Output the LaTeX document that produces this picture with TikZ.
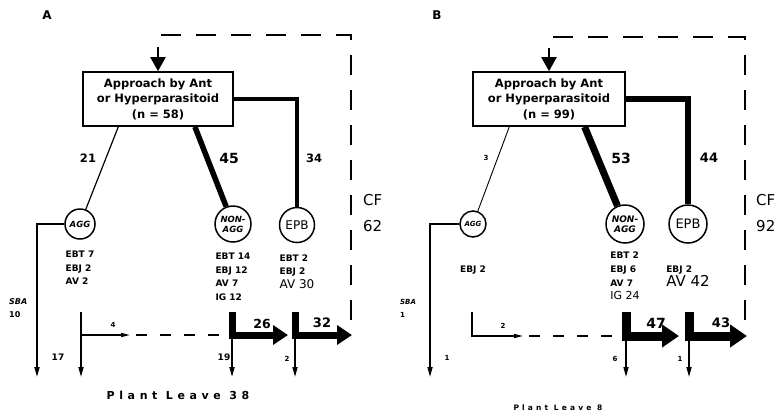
\documentclass[tikz,border=0pt]{standalone}
\usepackage{fontspec}
\setmainfont{DejaVu Sans}
\newfontfamily\leavefont[LetterSpace=42]{DejaVu Sans}
\usetikzlibrary{arrows.meta,positioning}
\tikzset{
  panel label/.style={font=\bfseries\fontsize{12}{12}\selectfont},
  event box/.style={draw,line width=1.6pt,minimum width=150pt,minimum height=54pt,inner sep=1pt,align=center,font=\bfseries\fontsize{11.5}{15.5}\selectfont},
  state node/.style={circle,draw,line width=1.5pt,inner sep=0pt},
  agg node/.style={state node,minimum size=30pt,font=\bfseries\itshape\fontsize{8.5}{9}\selectfont},
  nonagg node/.style={state node,minimum size=36pt,align=center,font=\bfseries\itshape\fontsize{8.5}{10}\selectfont},
  epb node/.style={state node,minimum size=35pt,font=\fontsize{12}{12}\selectfont},
  tally/.style={align=left,inner sep=0pt,font=\bfseries\fontsize{9}{13.7}\selectfont},
  big num/.style={font=\bfseries\fontsize{14}{14}\selectfont},
  mid num/.style={font=\bfseries\fontsize{11.5}{11.5}\selectfont},
  low num/.style={font=\bfseries\fontsize{9}{9}\selectfont},
  small num/.style={font=\bfseries\fontsize{7}{7}\selectfont},
  sba label/.style={align=left,inner sep=0pt,font=\bfseries\fontsize{8}{13}\selectfont},
  cf label/.style={align=left,inner sep=0pt,font=\fontsize{15}{26}\selectfont},
  leave label/.style={font=\leavefont\bfseries\fontsize{11}{11}\selectfont},
  down arrow/.style={line width=1.6pt,-{Triangle[length=10pt,width=5pt]}},
  side arrow/.style={line width=1.4pt,-{Triangle[length=9pt,width=4pt]}},
  return link/.style={line width=1.4pt,dash pattern=on 11pt off 13pt,shorten <=6pt},
  block arrow/.style={line width=7pt,line join=miter,-{Triangle[length=15pt,width=19pt]}},
  heavy block arrow/.style={line width=9pt,line join=miter,-{Triangle[length=17pt,width=22pt]}},
  loop line/.style={line width=2.4pt,dash pattern=on 20pt off 15pt},
  loop tip/.style={line width=2pt,-{Triangle[length=14pt,width=15pt]}},
}

\begin{document}
\begin{tikzpicture}[x=1pt,y=-1pt]
  \useasboundingbox (0,0) rectangle (781,416);

  % ---------- panel A ----------
  \node[panel label] (labelA) at (47,15) {A};
  \node[event box] (boxA) at (158,99) {Approach by Ant\\or Hyperparasitoid\\(n = 58)};
  \node[agg node] (aggA) at (80,224) {AGG};
  \node[nonagg node] (nonA) at (233,224) {NON-\\AGG};
  \node[epb node] (epbA) at (297,225) {EPB};
  \draw[line width=1.2pt] (boxA.215) -- (aggA);
  \draw[line width=5.5pt] (boxA.323) -- (nonA);
  \draw[line width=4pt] (boxA.east) -| (epbA);
  \node[mid num] (n21A) at (88,158) {21};
  \node[big num] (n45A) at (229,158) {45};
  \node[mid num] (n34A) at (314,158) {34};

  \node[tally,below=11pt of aggA] (listAggA) {EBT 7\\EBJ 2\\AV 2};
  \node[tally,below=10pt of nonA] (listNonA) {EBT 14\\EBJ 12\\AV 7\\IG 12};
  \node[tally,below=11pt of epbA] (listEpbA) {EBT 2\\EBJ 2\\{\mdseries\fontsize{12}{12}\selectfont AV 30}};

  % loop back to the approach box
  \coordinate (cfBaseA) at (351,320);
  \coordinate (cfTopA) at (351,35);
  \draw[loop line] (cfBaseA) -- (cfTopA) -| ([yshift=13pt]boxA.north);
  \draw[loop tip] ([yshift=15pt]boxA.north) -- (boxA.north);
  \node[cf label,anchor=west] (cfA) at (363,213) {CF\\62};

  % outcomes
  \coordinate (sbaEndA) at (37,377);
  \draw[down arrow] (aggA.west) -| (sbaEndA);
  \node[sba label,anchor=west] (sbaA) at (9,308) {{\itshape SBA}\\10};
  \coordinate (splitTopA) at (81,312);
  \coordinate (splitMidA) at (81,335);
  \coordinate (splitTipA) at (130,335);
  \coordinate (splitEndA) at (81,377);
  \draw[down arrow] (splitTopA) -- (splitEndA);
  \draw[side arrow] (splitMidA) -- (splitTipA);
  \coordinate (nonTopA) at (232,312);
  \coordinate (nonMidA) at (232,335);
  \coordinate (nonTipA) at (288,335);
  \coordinate (nonEndA) at (232,377);
  \draw[return link] (splitTipA) -- (nonMidA);
  \draw[block arrow] (nonTopA) |- (nonTipA);
  \draw[down arrow] (nonMidA) -- (nonEndA);
  \coordinate (epbTopA) at (295,312);
  \coordinate (epbMidA) at (295,335);
  \coordinate (epbTipA) at (352,335);
  \coordinate (epbEndA) at (295,377);
  \draw[block arrow] (epbTopA) |- (epbTipA);
  \draw[down arrow] (epbMidA) -- (epbEndA);
  \node[small num] (n4A) at (113,325) {4};
  \node[low num] (n17A) at (58,357) {17};
  \node[low num] (n19A) at (224,357) {19};
  \node[big num,font=\bfseries\fontsize{12.5}{12.5}\selectfont] (n26A) at (262,324) {26};
  \node[small num] (n2A) at (287,359) {2};
  \node[big num,font=\bfseries\fontsize{13}{13}\selectfont] (n32A) at (322,323) {32};
  \node[leave label] (leaveA) at (178,395) {Plant Leave 38};

  % ---------- panel B ----------
  \node[panel label] (labelB) at (437,15) {B};
  \node[event box,minimum width=152pt] (boxB) at (549,99) {Approach by Ant\\or Hyperparasitoid\\(n = 99)};
  \node[agg node,minimum size=26pt,font=\bfseries\itshape\fontsize{7}{7}\selectfont] (aggB) at (473,224) {AGG};
  \node[nonagg node,minimum size=38pt,font=\bfseries\itshape\fontsize{9}{10.5}\selectfont] (nonB) at (625,224) {NON-\\AGG};
  \node[epb node,minimum size=38pt,font=\fontsize{13}{13}\selectfont] (epbB) at (688,224) {EPB};
  \draw[line width=0.9pt] (boxB.215) -- (aggB);
  \draw[line width=7pt] (boxB.322) -- (nonB);
  \draw[line width=5.5pt] (boxB.east) -| (epbB);
  \node[small num] (n3B) at (486,158) {3};
  \node[big num] (n53B) at (621,158) {53};
  \node[big num,font=\bfseries\fontsize{13}{13}\selectfont] (n44B) at (709,158) {44};

  \node[tally,below=28pt of aggB] (listAggB) {EBJ 2};
  \node[tally,below=8pt of nonB] (listNonB) {EBT 2\\EBJ 6\\AV 7\\{\mdseries\fontsize{11}{11}\selectfont IG 24}};
  \node[tally,below=22pt of epbB] (listEpbB) {EBJ 2\\{\mdseries\fontsize{15}{15}\selectfont AV 42}};

  % loop back to the approach box
  \coordinate (cfBaseB) at (745,320);
  \coordinate (cfTopB) at (745,37);
  \draw[loop line] (cfBaseB) -- (cfTopB) -| ([yshift=13pt]boxB.north);
  \draw[loop tip] ([yshift=15pt]boxB.north) -- (boxB.north);
  \node[cf label,anchor=west] (cfB) at (756,213) {CF\\92};

  % outcomes
  \coordinate (sbaEndB) at (430,377);
  \draw[down arrow] (aggB.west) -| (sbaEndB);
  \node[sba label,anchor=west,font=\bfseries\fontsize{7}{13}\selectfont] (sbaB) at (400,308) {{\itshape SBA}\\1};
  \coordinate (splitTopB) at (472,312);
  \coordinate (splitMidB) at (472,336);
  \coordinate (splitTipB) at (523,336);
  \draw[side arrow] (splitTopB) |- (splitTipB);
  \coordinate (nonTopB) at (626,312);
  \coordinate (nonMidB) at (626,336);
  \coordinate (nonTipB) at (679,336);
  \coordinate (nonEndB) at (626,377);
  \draw[return link] (splitTipB) -- (nonMidB);
  \draw[heavy block arrow] (nonTopB) |- (nonTipB);
  \draw[down arrow] (nonMidB) -- (nonEndB);
  \coordinate (epbTopB) at (689,312);
  \coordinate (epbMidB) at (689,336);
  \coordinate (epbTipB) at (747,336);
  \coordinate (epbEndB) at (689,377);
  \draw[heavy block arrow] (epbTopB) |- (epbTipB);
  \draw[down arrow] (epbMidB) -- (epbEndB);
  \node[small num] (n2B) at (503,326) {2};
  \node[small num] (n1B) at (447,358) {1};
  \node[small num] (n6B) at (615,359) {6};
  \node[small num] (n1bB) at (680,359) {1};
  \node[big num] (n47B) at (656,323) {47};
  \node[big num,font=\bfseries\fontsize{13}{13}\selectfont] (n43B) at (721,323) {43};
  \node[leave label,font=\leavefont\bfseries\fontsize{7.5}{7.5}\selectfont] (leaveB) at (558,408) {Plant Leave 8};
\end{tikzpicture}
\end{document}
